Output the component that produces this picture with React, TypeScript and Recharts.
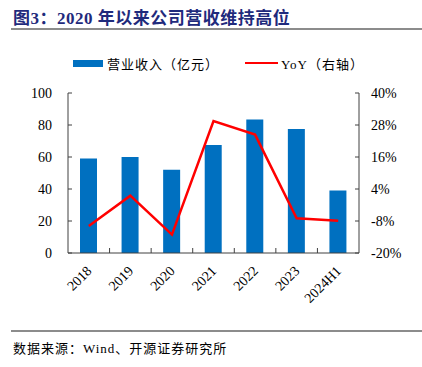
import { ComposedChart, Bar, Line, XAxis, YAxis } from 'recharts'

const years = ['2018', '2019', '2020', '2021', '2022', '2023', '2024H1']
const revenue = [59, 60, 52, 67.5, 83.5, 77.5, 39]
const yoy = [-9.9, 1.5, -13.1, 29.5, 24.4, -7, -7.9]
const leftTicks = [0, 20, 40, 60, 80, 100]
const rightTicks = [-20, -8, 4, 16, 28, 40]

const chartData = years.map((year, i) => ({
  year,
  revenue: revenue[i],
  yoy: yoy[i],
}))

const serif = '"Liberation Serif", "Noto Sans CJK SC", serif'
const cjk = '"Liberation Serif", "Noto Sans CJK SC", sans-serif'
const blue = '#0070C0'
const axisColor = '#404040'

// category ticks: label rotated, tick mark on the boundary to the left
const YearTick = (props: any) => {
  const { x, y, payload, index } = props
  const half = payload?.offset || 20.8
  return (
    <g>
      {index > 0 && (
        <line x1={x - half} x2={x - half} y1={y - 5} y2={y} stroke={axisColor} strokeWidth={1} />
      )}
      <g transform={`translate(${x - 3},${y + 12})`}>
        <text
          x={0}
          y={0}
          textAnchor="end"
          dominantBaseline="hanging"
          transform="rotate(-45)"
          fontFamily={serif}
          fontSize={14}
          fill="#000"
        >
          {payload.value}
        </text>
      </g>
    </g>
  )
}

export default function App() {
  return (
    <div style={{ position: 'absolute', left: 0, top: 0, width: 422, height: 367, background: '#fff', overflow: 'hidden' }}>
      <div
        style={{
          position: 'absolute', left: 13, top: 4, fontFamily: cjk, fontWeight: 700,
          fontSize: 17, color: '#1F2A7C', whiteSpace: 'nowrap', letterSpacing: 0.5,
        }}
      >
        图3：2020 年以来公司营收维持高位
      </div>
      <div style={{ position: 'absolute', left: 11, top: 28, width: 411, height: 2, background: '#8C8C8C' }} />

      {/* legend */}
      <div style={{ position: 'absolute', left: 73, top: 60, width: 30, height: 7, background: blue }} />
      <div style={{ position: 'absolute', left: 107, top: 54, fontFamily: cjk, fontSize: 13, letterSpacing: 1, whiteSpace: 'nowrap' }}>
        营业收入（亿元）
      </div>
      <div style={{ position: 'absolute', left: 245, top: 62, width: 33, height: 2, background: '#FF0000' }} />
      <div style={{ position: 'absolute', left: 281, top: 54, fontFamily: cjk, fontSize: 13, letterSpacing: 1, whiteSpace: 'nowrap' }}>
        YoY（右轴）
      </div>

      <div style={{ position: 'absolute', left: 0, top: 80 }}>
        <ComposedChart width={422} height={230} data={chartData} margin={{ top: 13, right: 8, bottom: 7, left: 8 }}>
          <XAxis
            dataKey="year"
            stroke={axisColor}
            tickLine={false}
            tickSize={0}
            tickMargin={0}
            height={50}
            interval={0}
            tick={<YearTick />}
          />
          <YAxis
            yAxisId="left"
            domain={[0, 100]}
            ticks={leftTicks}
            width={60}
            stroke={axisColor}
            tickSize={-4}
            tickMargin={20}
            tick={{ fill: '#000', fontSize: 14, fontFamily: serif }}
          />
          <YAxis
            yAxisId="right"
            orientation="right"
            domain={[-20, 40]}
            ticks={rightTicks}
            width={55}
            stroke={axisColor}
            tickSize={-4}
            tickMargin={16}
            tickFormatter={(v: number) => `${v}%`}
            tick={{ fill: '#000', fontSize: 14, fontFamily: serif }}
          />
          <Bar yAxisId="left" dataKey="revenue" fill={blue} barSize={17} isAnimationActive={false} />
          <Line
            yAxisId="right"
            dataKey="yoy"
            stroke="#FF0000"
            strokeWidth={2.5}
            dot={false}
            type="linear"
            isAnimationActive={false}
          />
        </ComposedChart>
      </div>

      <div style={{ position: 'absolute', left: 11, top: 330, width: 411, height: 2, background: '#8C8C8C' }} />
      <div style={{ position: 'absolute', left: 13, top: 338, fontFamily: cjk, fontSize: 13, letterSpacing: 1, whiteSpace: 'nowrap' }}>
        数据来源：Wind、开源证券研究所
      </div>
    </div>
  )
}
